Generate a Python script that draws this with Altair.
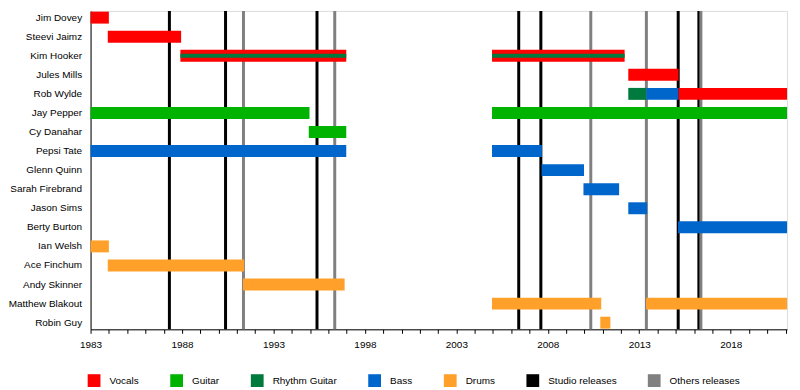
import altair as alt
import pandas as pd

FONT = "Liberation Sans, Arial, sans-serif"
END = 2021.08

members = ["Jim Dovey", "Steevi Jaimz", "Kim Hooker", "Jules Mills", "Rob Wylde",
           "Jay Pepper", "Cy Danahar", "Pepsi Tate", "Glenn Quinn", "Sarah Firebrand",
           "Jason Sims", "Berty Burton", "Ian Welsh", "Ace Finchum", "Andy Skinner",
           "Matthew Blakout", "Robin Guy"]

roles = ["Vocals", "Guitar", "Rhythm Guitar", "Bass", "Drums",
         "Studio releases", "Others releases"]
role_colors = ["#FF0000", "#00B300", "#007A3D", "#0066CC", "#FFA02A",
               "#000000", "#808080"]

seg_member = ["Jim Dovey", "Steevi Jaimz", "Kim Hooker", "Kim Hooker", "Jules Mills",
              "Rob Wylde", "Rob Wylde", "Rob Wylde", "Jay Pepper", "Jay Pepper",
              "Cy Danahar", "Pepsi Tate", "Pepsi Tate", "Glenn Quinn", "Sarah Firebrand",
              "Jason Sims", "Berty Burton", "Ian Welsh", "Ace Finchum", "Andy Skinner",
              "Matthew Blakout", "Matthew Blakout", "Robin Guy"]
seg_start = [1983.0, 1983.94, 1987.91, 2004.95, 2012.4,
             2012.4, 2013.39, 2015.15, 1983.0, 2004.95,
             1994.93, 1983.0, 2004.95, 2007.66, 2009.95,
             2012.4, 2015.12, 1983.0, 1983.94, 1991.33,
             2004.95, 2013.37, 2010.87]
seg_end = [1984.0, 1987.95, 1996.98, 2012.2, 2015.15,
           2013.39, 2015.15, END, 1994.97, END,
           1996.98, 1996.98, 2007.68, 2009.98, 2011.9,
           2013.43, END, 1984.0, 1991.4, 1996.89,
           2010.92, END, 2011.42]
seg_role = ["Vocals", "Vocals", "Vocals", "Vocals", "Vocals",
            "Rhythm Guitar", "Bass", "Vocals", "Guitar", "Guitar",
            "Guitar", "Bass", "Bass", "Bass", "Bass",
            "Bass", "Bass", "Drums", "Drums", "Drums",
            "Drums", "Drums", "Drums"]

stripe_member = ["Kim Hooker", "Kim Hooker"]
stripe_start = [1987.91, 2004.95]
stripe_end = [1996.98, 2012.2]
stripe_role = ["Rhythm Guitar", "Rhythm Guitar"]

studio_years = [1987.31, 1990.38, 1995.38, 2006.41, 2007.62, 2015.13, 2016.26]
other_years = [1991.36, 1996.35, 2010.35, 2013.39, 2016.37]

tick_years = list(range(1983, 2022))

segs = pd.DataFrame({"member": seg_member, "start": seg_start, "end": seg_end, "role": seg_role})
stripes = pd.DataFrame({"member": stripe_member, "start": stripe_start, "end": stripe_end, "role": stripe_role})
rel = pd.DataFrame({
    "year": studio_years + other_years,
    "role": ["Studio releases"] * len(studio_years) + ["Others releases"] * len(other_years),
})

xscale = alt.Scale(domain=[1983, END], nice=False, zero=False)
yscale = alt.Scale(domain=members, paddingInner=0.374, paddingOuter=0.037)
cscale = alt.Scale(domain=roles, range=role_colors)

xaxis = alt.Axis(values=tick_years, format="d",
                 labelExpr="(datum.value - 1983) % 5 == 0 ? datum.label : ''",
                 grid=False, tickSize=4, tickColor="#000", domainColor="#000",
                 labelFontSize=10, labelFont=FONT, labelColor="#000",
                 labelPadding=6, title=None, labelFlush=False)
yaxis = alt.Axis(ticks=False, grid=False, domainColor="#000", labelFontSize=10,
                 labelFont=FONT, labelColor="#000", labelPadding=9, title=None)

legend = alt.Legend(
    title=None, orient="none", legendX=-3, legendY=365, direction="horizontal",
    columns=7, columnPadding=31, symbolType="square", symbolSize=165,
    symbolStrokeWidth=0, labelFontSize=10, labelFont=FONT, labelColor="#000",
    labelOffset=9, padding=0)

rules = alt.Chart(rel).mark_rule(strokeWidth=3).encode(
    x=alt.X("year:Q", scale=xscale, axis=xaxis),
    color=alt.Color("role:N", scale=cscale, legend=legend),
)

bars = alt.Chart(segs).mark_bar(cornerRadius=0).encode(
    x=alt.X("start:Q", scale=xscale, axis=xaxis),
    x2="end:Q",
    y=alt.Y("member:N", scale=yscale, sort=members, axis=yaxis),
    color=alt.Color("role:N", scale=cscale, legend=legend),
)

stripe = alt.Chart(stripes).mark_bar(height=4).encode(
    x=alt.X("start:Q", scale=xscale, axis=xaxis),
    x2="end:Q",
    y=alt.Y("member:N", scale=yscale, sort=members, axis=yaxis),
    color=alt.Color("role:N", scale=cscale, legend=legend),
)

chart = alt.layer(rules, bars, stripe).properties(
    width=700, height=320,
    autosize="none",
    padding={"left": 83, "top": 2, "right": 5, "bottom": 58},
).configure_view(stroke=None).configure(background="white")

chart.save("out.html", embed_options={"renderer": "svg", "actions": False})
